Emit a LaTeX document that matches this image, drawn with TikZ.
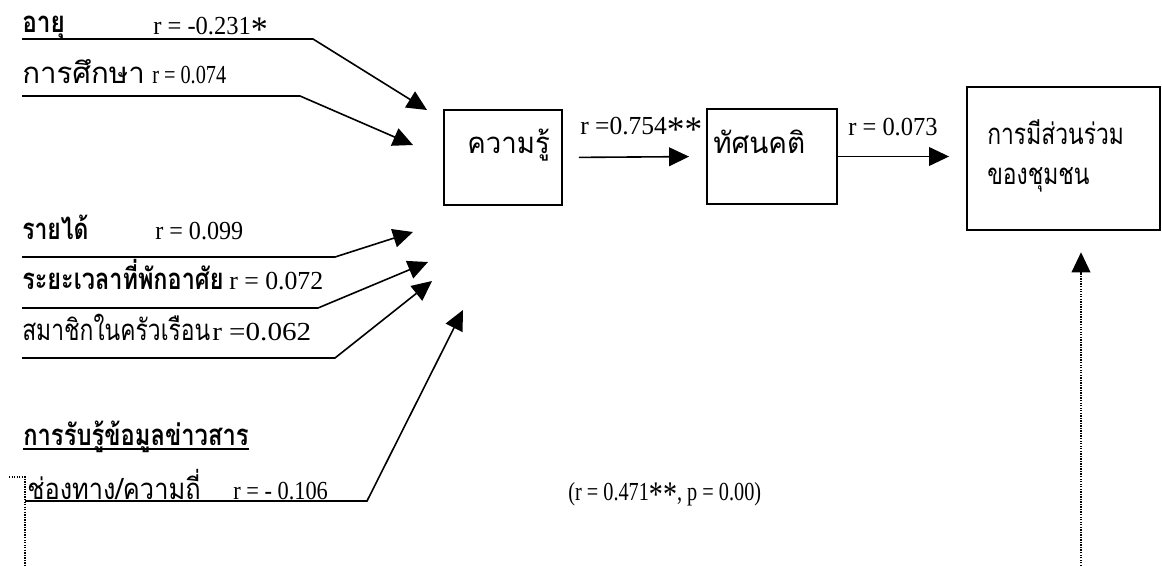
\documentclass[tikz,border=0pt]{standalone}
\usepackage{fontspec}
\setmainfont{Liberation Serif}
\newfontfamily\thaifont[Script=Thai]{Loma}
\usetikzlibrary{arrows.meta}
\newcommand\fw[2]{\sbox0{#2}\pgfmathsetmacro\fwr{max(0.78,min(1.12,#1/\wd0))}\scalebox{\fwr}[1]{\usebox0}}
\newcommand\tht[2]{\fw{#1}{\thaifont\fontsize{22pt}{26pt}\selectfont #2}}
\newcommand\lat[2]{\fw{#1}{#2}}
\newcommand\bigast{{\fontsize{27pt}{27pt}\selectfont\raisebox{-0.38ex}{*}}}
\tikzset{
  lbl/.style={anchor=base west,inner sep=0pt,font=\fontsize{19.5pt}{23pt}\selectfont},
  box/.style={draw,line width=1.4pt,inner sep=0pt,minimum height=71.25pt},
  conn/.style={line width=1.2pt,-{Triangle[length=15pt,width=14pt]}},
  dotl/.style={line width=1.1pt,dash pattern=on 1pt off 0.9pt},
}
\begin{document}
\begin{tikzpicture}[x=0.75pt,y=-0.75pt]
\useasboundingbox (0,0) rectangle (1162,566);
% boxes
\node[box,minimum width=88.5pt] (know) at (503,157.5) {};
\node[box,minimum width=97.5pt] (att) at (772,156.5) {};
\node[box,minimum width=144.75pt,minimum height=107.25pt] (part) at (1063.5,158.5) {};
\node[lbl] (knowt) at (467,154) {\tht{62pt}{ความรู้}};
\node[lbl] (attt) at (713,154) {\tht{69pt}{ทัศนคติ}};
\node[lbl] (partt1) at (987,145) {\tht{101pt}{การมีส่วนร่วม}};
\node[lbl] (partt2) at (987,185) {\tht{58.5pt}{ของชุมชน}};
% labels
\node[lbl] (l1) at (22,33) {\tht{32pt}{\bfseries อายุ}};
\node[lbl] (r1) at (153,35) {\lat{86pt}{r = -0.231\bigast}};
\node[lbl] (l2) at (22,84) {\tht{92pt}{การศึกษา}};
\node[lbl] (r2) at (152,84) {\lat{48pt}{r = 0.074}};
\node[lbl] (l3) at (22,240) {\tht{46pt}{\bfseries รายได้}};
\node[lbl] (r3) at (155,240) {\lat{66pt}{r = 0.099}};
\node[lbl] (l4) at (22,290) {\tht{151pt}{\bfseries ระยะเวลาที่พักอาศัย}};
\node[lbl] (r4) at (229,290) {\lat{70.5pt}{r = 0.072}};
\node[lbl] (l5) at (22,340) {\tht{133pt}{สมาชิกในครัวเรือน}};
\node[lbl] (r5) at (212,340) {\lat{79pt}{r =0.062}};
\node[lbl] (l6) at (23,445) {\tht{169pt}{\bfseries การรับรู้ข้อมูลข่าวสาร}};
\node[lbl] (l7) at (27,499) {\tht{130pt}{ช่องทาง/ความถี่}};
\node[lbl] (r7) at (233,499) {\lat{71pt}{r = - 0.106}};
\node[lbl] (rk) at (580,135) {\lat{91.5pt}{r =0.754\bigast\bigast}};
\node[lbl] (ra) at (848,136) {\lat{67pt}{r = 0.073}};
\node[lbl] (rt) at (568,500) {\lat{133pt}{(r = 0.471\bigast\bigast, p = 0.00)}};
\draw[line width=1.1pt] (l6.base west)++(0,4) -- ++(226,0);
% left connector coordinates
\coordinate (s1) at (22,39);  \coordinate (b1) at (313,39);  \coordinate (t1) at (427,110);
\coordinate (s2) at (22,96);  \coordinate (b2) at (300,96);  \coordinate (t2) at (413,145);
\coordinate (s3) at (22,257); \coordinate (b3) at (335,257); \coordinate (t3) at (413,232);
\coordinate (s4) at (22,308); \coordinate (b4) at (318,308); \coordinate (t4) at (428,262);
\coordinate (s5) at (22,358); \coordinate (b5) at (335,358); \coordinate (t5) at (432,281);
\coordinate (s6) at (25,501); \coordinate (b6) at (367,501); \coordinate (t6) at (463,310);
\foreach \i in {1,...,6} \draw[conn] (s\i) -- (b\i) -- (t\i);
% main chain
\draw[conn,shorten <=12pt,shorten >=12.75pt] (know.east) -- (att.west);
\draw[conn,shorten >=12.75pt] (att.east) -- (part.west |- att.east);
\coordinate (d0) at (1081,566);
\draw[dotl,-{Triangle[length=15pt,width=14pt]},shorten >=16pt] (d0) -- (d0 |- part.south);
% bottom-left dotted stub
\coordinate (e0) at (9,477); \coordinate (e1) at (25,477); \coordinate (e2) at (25,566);
\draw[dotl] (e0) -- (e1) -- (e2);
\end{tikzpicture}
\end{document}
